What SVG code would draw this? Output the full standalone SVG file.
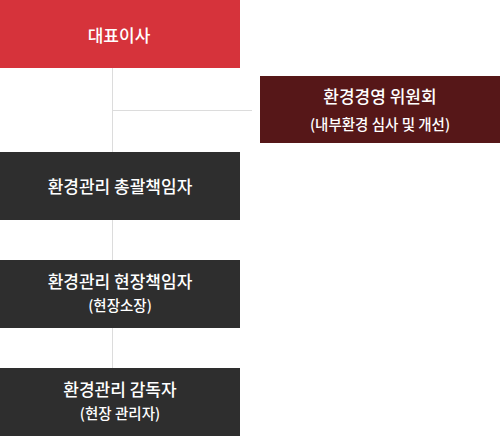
<svg xmlns="http://www.w3.org/2000/svg" width="500" height="436" viewBox="0 0 500 436">
<style>
.t{font-family:"Noto Sans CJK KR","Noto Sans",sans-serif;fill:#fff;text-anchor:middle;}
.m{font-size:17px;font-weight:500;}
.s{font-size:14.5px;font-weight:500;}
.c{stroke:#dcdcdc;stroke-width:1;fill:none;}
</style>
<rect width="500" height="436" fill="#fff"/>
<g id="connectors">
<line class="c" x1="112.5" y1="68" x2="112.5" y2="152"/>
<line class="c" x1="112.5" y1="110.5" x2="252" y2="110.5"/>
<line class="c" x1="112.5" y1="220" x2="112.5" y2="260"/>
<line class="c" x1="112.5" y1="328" x2="112.5" y2="368"/>
</g>
<g id="ceo">
<rect x="0" y="0" width="240" height="68" fill="#d6333b"/>
<text class="t m" x="119" y="41.5">대표이사</text>
</g>
<g id="committee">
<rect x="260" y="76" width="240" height="67" fill="#561718"/>
<text class="t m" x="380" y="102.5">환경경영 위원회</text>
<text class="t s" x="380" y="129.5">(내부환경 심사 및 개선)</text>
</g>
<g id="general">
<rect x="0" y="152" width="240" height="68" fill="#2e2e2e"/>
<text class="t m" x="120" y="192.5">환경관리 총괄책임자</text>
</g>
<g id="site">
<rect x="0" y="260" width="240" height="68" fill="#2e2e2e"/>
<text class="t m" x="120" y="287.5">환경관리 현장책임자</text>
<text class="t s" x="120" y="310.5">(현장소장)</text>
</g>
<g id="supervisor">
<rect x="0" y="368" width="240" height="68" fill="#2e2e2e"/>
<text class="t m" x="120" y="395.5">환경관리 감독자</text>
<text class="t s" x="120" y="418.5">(현장 관리자)</text>
</g>
</svg>
